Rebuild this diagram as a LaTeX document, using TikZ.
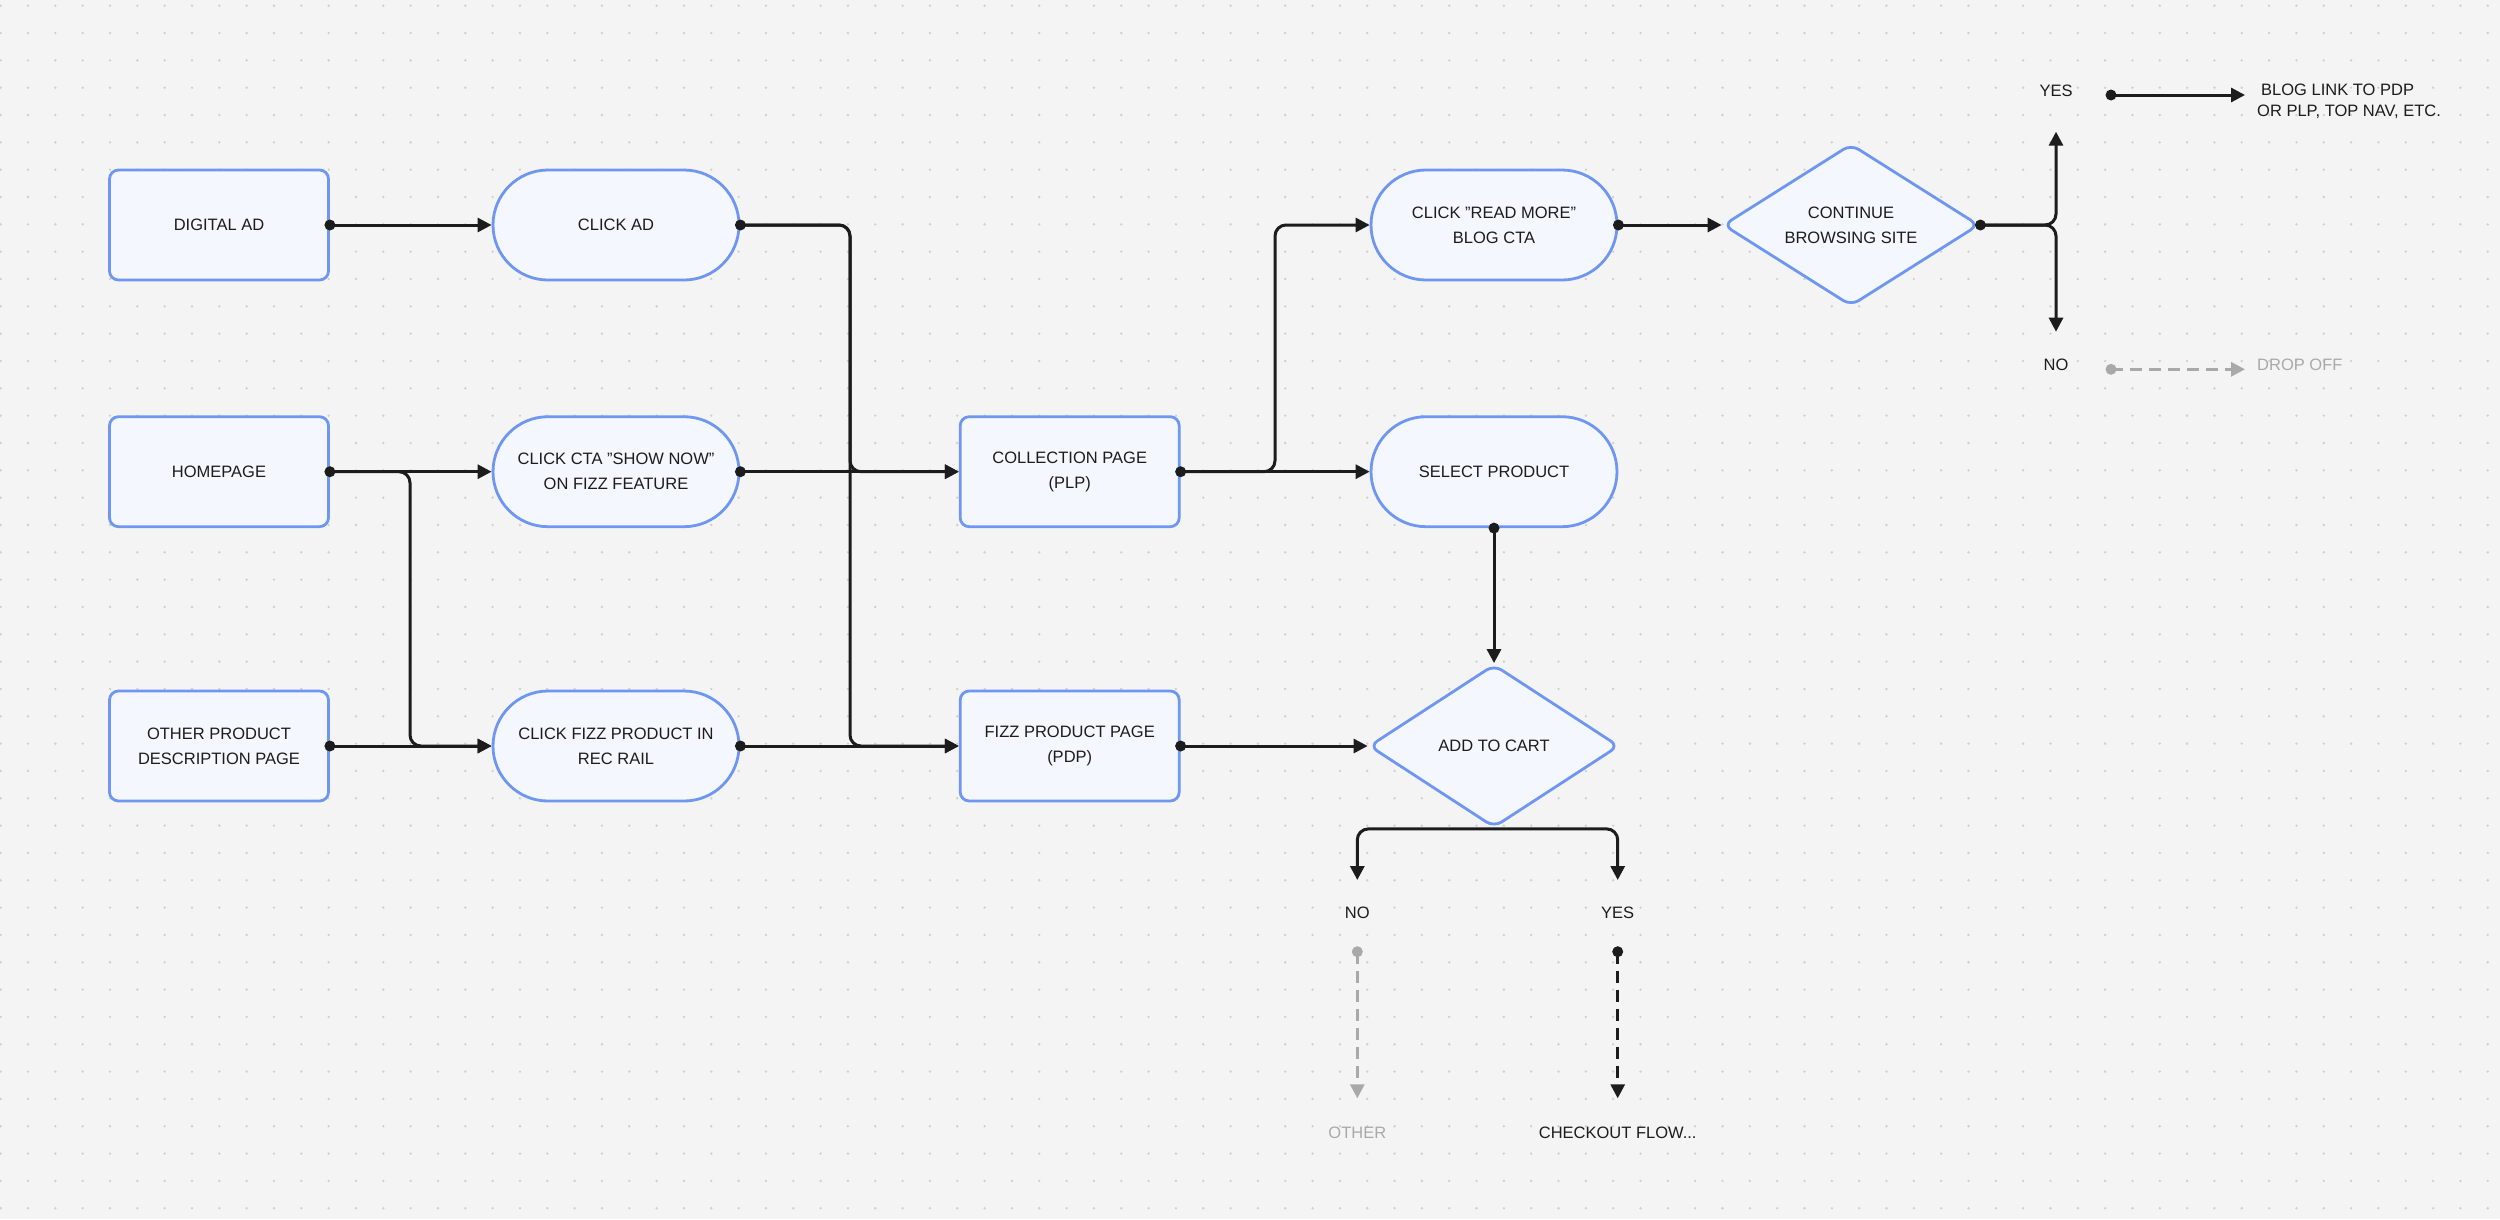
\documentclass[tikz,border=0pt]{standalone}
\usepackage{fontspec}
\setmainfont{Liberation Sans}
\usetikzlibrary{arrows.meta,shapes.geometric}
\definecolor{bg}{HTML}{F4F4F4}
\definecolor{griddot}{HTML}{CFCFCF}
\definecolor{nodeblue}{HTML}{6E96F2}
\definecolor{nodefill}{HTML}{F4F7FE}
\definecolor{ink}{HTML}{1C1C1C}
\definecolor{muted}{HTML}{A9A9A9}
\begin{document}
\begin{tikzpicture}[x=1pt,y=-1pt,
  font=\fontsize{16.5}{25}\selectfont,
  box/.style={draw=nodeblue, fill=nodefill, line width=2.8pt, rounded corners=9pt,
    minimum width=219pt, minimum height=110pt, align=center, text=ink, inner sep=0pt},
  pill/.style={box, rounded corners=55pt, minimum width=246pt},
  dia/.style={draw=nodeblue, fill=nodefill, line width=2.8pt, shape=diamond,
    rounded corners=9pt, inner sep=0pt},
  conn/.style={draw=ink, line width=3pt, rounded corners=11pt,
    -{Triangle[length=14pt,width=14pt]}},
  mutedconn/.style={conn, draw=muted, rounded corners=0pt, dash pattern=on 12pt off 7pt},
  dashconn/.style={conn, rounded corners=0pt, dash pattern=on 12pt off 7pt},
  lbl/.style={inner sep=0pt, text=ink},
  mutedlbl/.style={inner sep=0pt, text=muted}
]
\fill[bg] (0,0) rectangle (2500,1219);
\useasboundingbox (0,0) rectangle (2500,1219);
\foreach \i in {0,...,91}{\foreach \j in {0,...,44}{\fill[griddot] ({0.7+27.33*\i},{5.7+27.33*\j}) circle (1.3pt);}}

% nodes
\node[box]  (da)  at (219,225)     {DIGITAL AD};
\node[pill] (ca)  at (616,225)     {CLICK AD};
\node[box]  (hp)  at (219,471.7)   {HOMEPAGE};
\node[pill] (cta) at (616,471.7)   {CLICK CTA "SHOW NOW"\\ON FIZZ FEATURE};
\node[box]  (opd) at (219,746)     {OTHER PRODUCT\\DESCRIPTION PAGE};
\node[pill] (cfp) at (616,746)     {CLICK FIZZ PRODUCT IN\\REC RAIL};
\node[box]  (plp) at (1069.7,471.7) {COLLECTION PAGE\\(PLP)};
\node[box]  (pdp) at (1069.7,746)  {FIZZ PRODUCT PAGE\\(PDP)};
\node[pill] (rm)  at (1494,225)    {CLICK "READ MORE"\\BLOG CTA};
\node[pill] (sp)  at (1494,471.7)  {SELECT PRODUCT};
\node[dia, minimum width=256pt, minimum height=162pt] (cont) at (1851,225) {};
\node[lbl, align=center] (contT) at (cont.center) {CONTINUE\\BROWSING SITE};
\node[dia, minimum width=250pt, minimum height=163pt] (atc) at (1494,746) {};
\node[lbl] (atcT) at (atc.center) {ADD TO CART};

% labels
\node[lbl] (yesA) at (2056,91) {YES};
\node[lbl] (noA)  at (2056,365) {NO};
\node[lbl, anchor=west, align=left, font=\fontsize{16.5}{21}\selectfont] (blog) at (2257,101.3)
  {\hspace{4pt}BLOG LINK TO PDP\\OR PLP, TOP NAV, ETC.};
\node[mutedlbl, anchor=west] (drop) at (2257,365) {DROP OFF};
\node[lbl] (noB)  at (1357.3,913.3) {NO};
\node[lbl] (yesB) at (1617.7,913.3) {YES};
\node[mutedlbl] (other) at (1357.3,1132.7) {OTHER};
\node[lbl] (checkout) at (1617.7,1132.7) {CHECKOUT FLOW...};

% helper coordinates
\coordinate (busA) at (850,0);
\coordinate (busH) at (410,0);
\coordinate (busP) at (1275,0);
\coordinate (contUp) at (2056,131.7);
\coordinate (contDown) at (2056,331.7);
\coordinate (atcNo) at (1357.3,880);
\coordinate (atcYes) at (1617.7,880);
\coordinate (blogS) at (2111,95);
\coordinate (blogE) at (2245,95);
\coordinate (dropS) at (2111,369.3);
\coordinate (dropE) at (2245,369.3);
\coordinate (otherS) at (1357.3,951.7);
\coordinate (otherE) at (1357.3,1098.3);
\coordinate (chkS) at (1617.7,951.7);
\coordinate (chkE) at (1617.7,1098.3);

% connectors
\draw[conn] (da.east) -- (ca.west);
\draw[conn] (ca.east) -| (busA |- plp.west) -- (plp.west);
\draw[conn] (ca.east) -| (busA |- pdp.west) -- (pdp.west);
\draw[conn] (hp.east) -- (cta.west);
\draw[conn] (hp.east) -| (busH |- cfp.west) -- (cfp.west);
\draw[conn] (opd.east) -- (cfp.west);
\draw[conn] (cta.east) -- (plp.west);
\draw[conn] (cfp.east) -- (pdp.west);
\draw[conn] (plp.east) -- (sp.west);
\draw[conn] (plp.east) -| (busP |- rm.west) -- (rm.west);
\draw[conn] (pdp.east) -- (atc.west);
\draw[conn] (sp.south) -- (atc.north);
\draw[conn] (rm.east) -- (cont.west);
\draw[conn] (cont.east) -| (contUp);
\draw[conn] (cont.east) -| (contDown);
\draw[conn] (atc.south) -| (atcNo);
\draw[conn] (atc.south) -| (atcYes);
\draw[conn, rounded corners=0pt] (blogS) -- (blogE);
\draw[mutedconn] (dropS) -- (dropE);
\draw[mutedconn] (otherS) -- (otherE);
\draw[dashconn] (chkS) -- (chkE);

% start dots
\foreach \p in {da.east, ca.east, hp.east, opd.east, cta.east, cfp.east, plp.east, pdp.east, rm.east, sp.south, cont.east, blogS, chkS}
  {\fill[ink] (\p) circle (5.5pt);}
\foreach \p in {dropS, otherS}
  {\fill[muted] (\p) circle (5.5pt);}
\end{tikzpicture}
\end{document}
